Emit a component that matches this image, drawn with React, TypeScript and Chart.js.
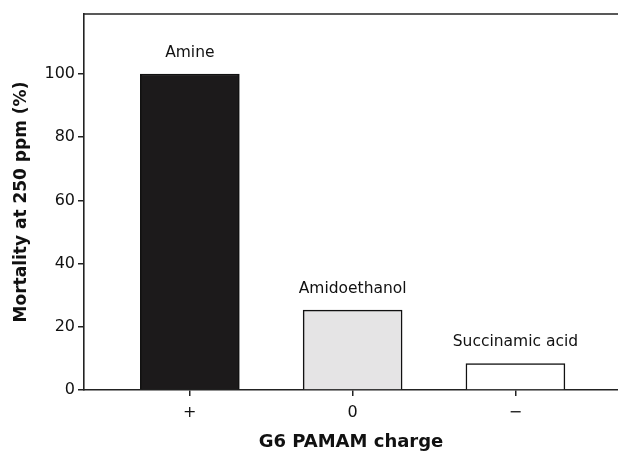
import React, { useEffect, useRef } from "react";
import { Chart, registerables } from "chart.js";

Chart.register(...registerables);

const positions = [0, 1, 2];
const chargeLabels = ["+", "0", "\u2212"];
const surfaceGroups = ["Amine", "Amidoethanol", "Succinamic acid"];
const mortality = [100, 25.3, 8.4];
const barColors = ["#1c1a1b", "#e5e4e5", "#ffffff"];
const yTicks = [0, 20, 40, 60, 80, 100];

const FONT = "'DejaVu Sans', 'Liberation Sans', Arial, sans-serif";
const AXIS = "#222222";

const topBorder = {
  id: "topBorder",
  afterDraw(chart: any) {
    const { ctx, chartArea } = chart;
    ctx.save();
    ctx.strokeStyle = AXIS;
    ctx.lineWidth = 1.6;
    ctx.beginPath();
    ctx.moveTo(chartArea.left, chartArea.top);
    ctx.lineTo(chartArea.right, chartArea.top);
    ctx.stroke();
    ctx.restore();
  },
};

const barLabels = {
  id: "barLabels",
  afterDatasetsDraw(chart: any) {
    const { ctx } = chart;
    const meta = chart.getDatasetMeta(0);
    ctx.save();
    ctx.font = `15.5px ${FONT}`;
    ctx.fillStyle = "#111";
    ctx.textAlign = "center";
    ctx.textBaseline = "alphabetic";
    meta.data.forEach((el: any, i: number) => {
      ctx.fillText(surfaceGroups[i], el.x, el.y - 17);
    });
    ctx.restore();
  },
};

export default function App() {
  const ref = useRef<HTMLCanvasElement>(null);
  useEffect(() => {
    if (!ref.current) return;
    const chart = new Chart(ref.current, {
      type: "bar",
      data: {
        datasets: [
          {
            data: positions.map((p, i) => ({ x: p, y: mortality[i] })),
            backgroundColor: barColors,
            borderColor: "#111",
            borderWidth: 1.5,
            barThickness: 99,
          },
        ],
      },
      options: {
        animation: false,
        responsive: false,
        layout: { padding: { top: 14, right: 0, left: 0, bottom: 0 } },
        plugins: { legend: { display: false }, tooltip: { enabled: false } },
        scales: {
          x: {
            type: "linear",
            offset: false,
            min: -0.65,
            max: 2.63,
            afterFit: (s: any) => {
              s.height = 61;
            },
            afterBuildTicks: (s: any) => {
              s.ticks = positions.map((v) => ({ value: v }));
            },
            ticks: {
              font: { family: FONT, size: 16 },
              color: "#111",
              padding: 7,
              maxRotation: 0,
              callback: (v: any) => chargeLabels[positions.indexOf(Number(v))] ?? "",
            },
            grid: {
              display: true,
              offset: false,
              drawOnChartArea: false,
              drawTicks: true,
              tickLength: 6,
              color: AXIS,
              lineWidth: 1.5,
            },
            border: { display: true, color: AXIS, width: 1.6 },
            title: {
              display: true,
              text: "G6 PAMAM charge",
              font: { family: FONT, size: 18, weight: "bold", lineHeight: 1 },
              color: "#111",
              padding: { top: 0, bottom: 0 },
            },
          },
          y: {
            min: 0,
            max: 119,
            afterFit: (s: any) => {
              s.width = 84;
            },
            afterBuildTicks: (s: any) => {
              s.ticks = yTicks.map((v) => ({ value: v }));
            },
            ticks: {
              font: { family: FONT, size: 16 },
              color: "#111",
              padding: 3,
            },
            grid: {
              display: true,
              drawOnChartArea: false,
              drawTicks: true,
              tickLength: 6,
              color: AXIS,
              lineWidth: 1.5,
            },
            border: { display: true, color: AXIS, width: 1.6 },
            title: {
              display: true,
              text: "Mortality at 250 ppm (%)",
              font: { family: FONT, size: 17, weight: "bold", lineHeight: 1 },
              color: "#111",
              padding: { top: 13, bottom: 0 },
            },
          },
        },
      },
      plugins: [topBorder, barLabels],
    });
    return () => chart.destroy();
  }, []);
  return (
    <div style={{ position: "absolute", left: 0, top: 0, width: 618, height: 451, background: "#fff" }}>
      <canvas ref={ref} width={618} height={451} />
    </div>
  );
}
